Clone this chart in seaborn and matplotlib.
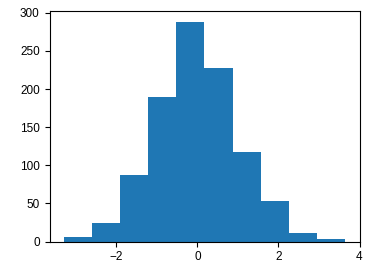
import matplotlib
matplotlib.use("Agg")
import matplotlib.pyplot as plt
import seaborn as sns
import numpy as np

bin_edges = [-3.30, -2.61, -1.91, -1.22, -0.52, 0.17, 0.87, 1.56, 2.26, 2.95, 3.65]
counts = [6, 24, 87, 189, 288, 227, 117, 53, 11, 3]
x_ticks = [-2, 0, 2, 4]

centers = [(a + b) / 2 for a, b in zip(bin_edges[:-1], bin_edges[1:])]

sns.set_style("ticks")
plt.rcParams['font.family'] = ['Liberation Sans', 'DejaVu Sans']
plt.rcParams['font.size'] = 8.5

fig = plt.figure(figsize=(3.9, 2.7), dpi=100)
ax = fig.add_axes([49.5 / 390, 1 - 241.5 / 270, 310 / 390, 230.5 / 270])
sns.histplot(x=centers, weights=counts, bins=bin_edges, ax=ax,
             color="#1f77b4", alpha=1, edgecolor="none", linewidth=0)
ax.margins(x=0.05, y=0.05)
ax.set_xlim(bin_edges[0] - 0.05 * (bin_edges[-1] - bin_edges[0]),
            bin_edges[-1] + 0.05 * (bin_edges[-1] - bin_edges[0]))
ax.set_ylim(0, max(counts) * 1.05)
ax.set_xticks(x_ticks)
ax.set_yticks([0, 50, 100, 150, 200, 250, 300])
ax.set_xlabel("")
ax.set_ylabel("")
for s in ax.spines.values():
    s.set_visible(True)
    s.set_linewidth(0.8)
    s.set_color("black")
ax.tick_params(labelsize=8.5, length=3.5, width=0.8, colors="black")
fig.savefig("out.png", dpi=100)
